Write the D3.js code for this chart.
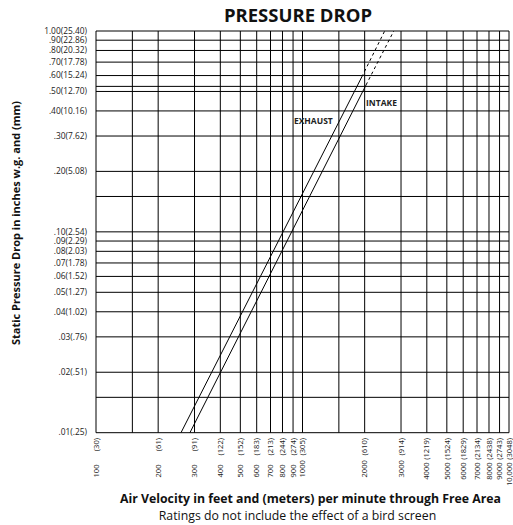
<!DOCTYPE html>
<html>
<head>
<meta charset="utf-8">
<script src="https://cdn.jsdelivr.net/npm/d3@7"></script>
<style>
  html, body { margin: 0; padding: 0; background: #fff; }
  svg { display: block; font-family: "Open Sans", sans-serif; }
</style>
</head>
<body>
<svg id="chart" width="513" height="525"></svg>
<script>
// ---------- data ----------
const xTickValues = [100, 200, 300, 400, 500, 600, 700, 800, 900, 1000, 2000, 3000, 4000, 5000, 6000, 7000, 8000, 9000, 10000];
const xTickFeet   = ["100", "200", "300", "400", "500", "600", "700", "800", "900", "1000", "2000", "3000", "4000", "5000", "6000", "7000", "8000", "9000", "10,000"];
const xTickMeters = ["(30)", "(61)", "(91)", "(122)", "(152)", "(183)", "(213)", "(244)", "(274)", "(305)", "(610)", "(914)", "(1219)", "(1524)", "(1829)", "(2134)", "(2438)", "(2743)", "(3048)"];
const xGridValues = [100, 150, 200, 300, 400, 500, 600, 700, 800, 900, 1000, 1500, 2000, 3000, 4000, 5000, 6000, 7000, 8000, 9000, 10000];

const yTickValues = [1.00, 0.90, 0.80, 0.70, 0.60, 0.50, 0.40, 0.30, 0.20, 0.10, 0.09, 0.08, 0.07, 0.06, 0.05, 0.04, 0.03, 0.02, 0.01];
const yTickLabels = ["1.00(25.40)", ".90(22.86)", ".80(20.32)", ".70(17.78)", ".60(15.24)", ".50(12.70)", ".40(10.16)", ".30(7.62)", ".20(5.08)", ".10(2.54)", ".09(2.29)", ".08(2.03)", ".07(1.78)", ".06(1.52)", ".05(1.27)", ".04(1.02)", ".03(.76)", ".02(.51)", ".01(.25)"];
const yGridValues = [1.00, 0.90, 0.80, 0.70, 0.60, 0.53, 0.50, 0.40, 0.30, 0.20, 0.15, 0.10, 0.09, 0.08, 0.07, 0.06, 0.05, 0.04, 0.03, 0.02, 0.015, 0.01];

// velocity (fpm), pressure (in. w.g.)
const exhaustSolid  = [[258, 0.01], [1936, 0.59]];
const exhaustDashed = [[1936, 0.59], [2500, 1.00]];
const intakeSolid   = [[285, 0.01], [2030, 0.538]];
const intakeDashed  = [[2030, 0.538], [2767, 1.00]];

const seriesLabels = [
  {text: "EXHAUST", v: 909,  p: 0.344},
  {text: "INTAKE",  v: 2030, p: 0.423}
];

// ---------- layout ----------
const svg = d3.select("#chart");
const x = d3.scaleLog().domain([100, 10000]).range([96, 509]);
const y = d3.scaleLog().domain([0.01, 1]).range([432.7, 31]);

const g = svg.append("g");

// gridlines
g.selectAll("line.vg").data(xGridValues).join("line")
  .attr("x1", d => x(d)).attr("x2", d => x(d))
  .attr("y1", y(1)).attr("y2", y(0.01))
  .attr("stroke", "#000").attr("stroke-width", 1);
g.selectAll("line.hg").data(yGridValues).join("line")
  .attr("x1", x(100)).attr("x2", x(10000))
  .attr("y1", d => y(d)).attr("y2", d => y(d))
  .attr("stroke", "#000").attr("stroke-width", 1);

// y tick labels
g.selectAll("text.yl").data(yTickValues).join("text")
  .attr("x", 87).attr("y", d => y(d)).attr("dy", "0.33em")
  .attr("text-anchor", "end").attr("font-size", 8.4).attr("fill", "#222")
  .text((d, i) => yTickLabels[i]);

// x tick labels (rotated; meters at top, feet at bottom)
const xl = g.selectAll("g.xl").data(xTickValues).join("g")
  .attr("transform", d => `translate(${x(d)},438) rotate(-90)`);
xl.append("text").attr("class", "m")
  .attr("x", 0).attr("y", 0).attr("dy", "0.35em")
  .attr("text-anchor", "end").attr("font-size", 7.6).attr("fill", "#222")
  .text((d, i) => xTickMeters[i]);
xl.append("text").attr("class", "f")
  .attr("y", 0).attr("dy", "0.35em")
  .attr("text-anchor", "start").attr("font-size", 7.6).attr("fill", "#222")
  .text((d, i) => xTickFeet[i]);
xl.each(function() {
  const grp = d3.select(this);
  const mw = grp.select("text.m").node().getComputedTextLength();
  const fw = grp.select("text.f").node().getComputedTextLength();
  const off = Math.max(39.5, mw + 2.5 + fw);
  grp.select("text.f").attr("x", -off);
});

// data lines
const line = d3.line().x(d => x(d[0])).y(d => y(d[1]));
[exhaustSolid, intakeSolid].forEach(s => {
  g.append("path").attr("d", line(s)).attr("fill", "none").attr("stroke", "#000").attr("stroke-width", 1);
});
[exhaustDashed, intakeDashed].forEach(s => {
  g.append("path").attr("d", line(s)).attr("fill", "none").attr("stroke", "#000").attr("stroke-width", 1)
    .attr("stroke-dasharray", "3,3");
});

// series labels
g.selectAll("text.sl").data(seriesLabels).join("text")
  .attr("x", d => x(d.v)).attr("y", d => y(d.p))
  .attr("font-size", 8.5).attr("font-weight", "bold").attr("fill", "#222")
  .text(d => d.text);

// titles
svg.append("text").attr("x", 298).attr("y", 22).attr("text-anchor", "middle")
  .attr("font-size", 18.5).attr("font-weight", "bold").attr("fill", "#111")
  .text("PRESSURE DROP");
svg.append("text").attr("transform", "translate(20,223) rotate(-90)").attr("text-anchor", "middle")
  .attr("font-size", 11).attr("font-weight", "bold").attr("fill", "#111")
  .text("Static Pressure Drop in inches w.g. and (mm)");
svg.append("text").attr("x", 310.5).attr("y", 503).attr("text-anchor", "middle")
  .attr("font-size", 12.3).attr("font-weight", "bold").attr("fill", "#111")
  .text("Air Velocity in feet and (meters) per minute through Free Area");
svg.append("text").attr("x", 297.5).attr("y", 520).attr("text-anchor", "middle")
  .attr("font-size", 12.3).attr("fill", "#111")
  .text("Ratings do not include the effect of a bird screen");
</script>
</body>
</html>
